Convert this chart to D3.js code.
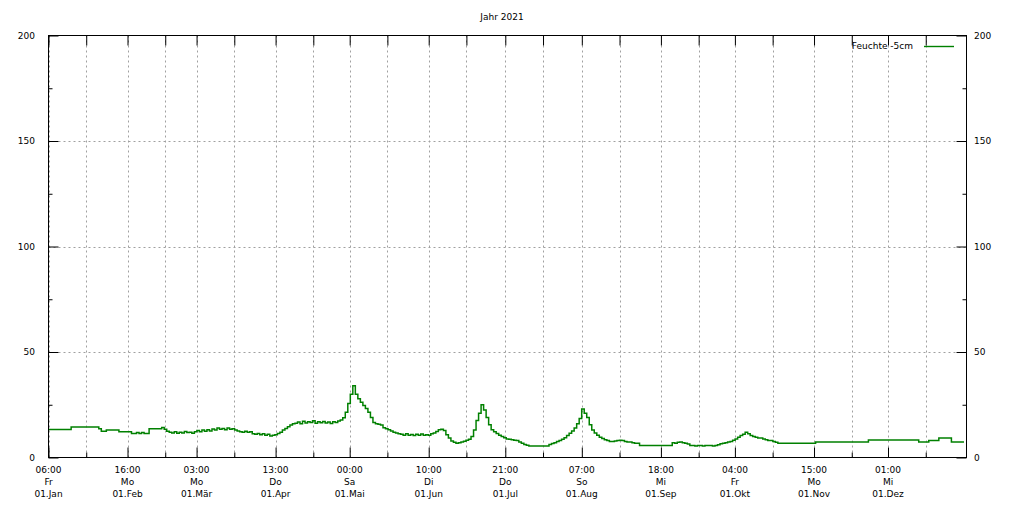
<!DOCTYPE html>
<html><head><meta charset="utf-8">
<script src="https://cdn.jsdelivr.net/npm/d3@7"></script>
<style>
body{margin:0;background:#fff;}
svg{display:block;font-family:"DejaVu Sans",sans-serif;font-size:9px;}
</style></head><body>
<svg id="chart" width="1015" height="507"></svg>
<script>
// ---- data ----
const title = "Jahr 2021";
const seriesName = "Feuchte -5cm";
const startDate = "2021-01-01T06:00";
const endDate = "2022-01-01T06:00";
const stepDays = 1; // one daily reading from startDate
const values = [
13.3,13.3,13.3,13.3,13.3,13.3,13.3,13.3,13.3,
14.5,14.5,14.5,14.5,14.5,14.5,14.5,14.5,14.5,14.5,14.5,
13.6,12.4,12.4,13.0,13.0,13.0,13.0,13.0,
12.2,12.2,12.2,12.2,12.2,
11.4,11.4,11.8,11.4,11.8,11.4,11.4,
13.6,13.6,13.6,13.6,13.6,14.2,13.4,
12.4,12.0,11.6,12.2,11.5,12.0,11.6,12.3,11.8,12.0,11.5,12.2,
12.8,12.2,13.0,12.4,13.2,12.6,13.5,13.0,14.0,13.4,13.8,13.2,14.0,13.4,13.6,13.0,12.6,
12.2,12.0,12.4,12.0,12.2,
11.3,11.0,11.4,10.8,11.2,10.6,11.0,10.2,10.6,
10.8,11.4,12.0,13.0,13.8,14.6,15.4,16.0,
16.2,16.8,16.0,17.2,16.4,17.0,16.6,17.4,16.2,16.9,16.5,17.1,16.3,16.8,16.1,17.0,16.6,17.3,
17.8,18.8,21.5,25.6,30.0,34.0,30.0,27.8,26.2,24.6,23.2,21.5,19.0,16.6,16.0,15.8,15.4,14.1,13.6,13.2,12.6,12.0,11.6,11.3,
11.0,10.6,11.2,10.5,10.9,10.4,11.0,10.6,11.1,10.5,10.8,10.6,11.2,
11.6,12.3,13.2,13.4,12.8,10.8,9.2,7.8,7.2,6.8,
7.0,7.4,7.7,8.2,8.6,10.0,13.0,17.5,21.0,25.0,
22.5,19.0,15.5,13.2,12.2,11.4,10.6,10.0,9.4,8.8,
8.6,8.4,8.2,8.1,7.4,6.8,6.2,5.8,5.4,
5.4,5.4,5.4,5.4,5.4,5.4,5.4,
6.2,6.6,7.0,7.6,8.1,8.6,9.4,10.4,11.5,12.6,
14.0,16.0,18.5,23.0,21.0,19.0,15.5,13.0,11.6,10.6,
9.6,9.0,8.4,8.0,7.6,7.6,7.8,8.1,8.2,8.0,
7.6,7.3,7.3,7.0,6.8,6.8,
5.7,5.7,5.7,5.7,5.7,5.7,5.7,5.7,5.7,5.7,5.7,5.7,5.7,
7.0,6.8,7.2,7.3,7.0,6.8,6.4,
5.7,5.7,5.4,5.7,5.7,5.4,5.7,5.7,5.7,5.4,5.7,6.0,
6.5,6.8,7.0,7.3,7.6,8.2,8.8,9.6,10.4,11.0,
12.0,11.2,10.4,10.0,9.6,9.3,9.3,8.8,8.4,8.1,
8.1,7.6,7.2,
6.8,6.8,6.8,6.8,6.8,6.8,6.8,6.8,6.8,6.8,6.8,6.8,6.8,6.8,6.8,
7.3,7.3,7.3,7.3,7.3,7.3,7.3,7.3,7.3,7.3,7.3,7.3,7.3,7.3,7.3,7.3,7.3,7.3,7.3,7.3,7.3,
8.3,8.3,8.3,8.3,8.3,8.3,8.3,8.3,8.3,8.3,8.3,8.3,8.3,8.3,8.3,8.3,8.3,8.3,8.3,8.3,
7.3,7.3,7.3,7.3,
8.1,8.1,8.1,8.1,
9.3,9.3,9.3,9.3,9.3,
7.3,7.3,7.3,7.3,7.3,7.3
];
const majorTicks = ["2021-01-01T06:00","2021-02-01T16:00","2021-03-01T03:00","2021-04-01T13:00","2021-05-01T00:00","2021-06-01T10:00","2021-07-01T21:00","2021-08-01T07:00","2021-09-01T18:00","2021-10-01T04:00","2021-11-01T15:00","2021-12-01T01:00"];
const tickTimes = ["06:00","16:00","03:00","13:00","00:00","10:00","21:00","07:00","18:00","04:00","15:00","01:00"];
const tickDays = ["Fr","Mo","Mo","Do","Sa","Di","Do","So","Mi","Fr","Mo","Mi"];
const tickDates = ["01.Jan","01.Feb","01.Mär","01.Apr","01.Mai","01.Jun","01.Jul","01.Aug","01.Sep","01.Okt","01.Nov","01.Dez"];
const minorTicks = ["2021-01-16T06:00","2021-02-16T16:00","2021-03-16T03:00","2021-04-16T13:00","2021-05-16T00:00","2021-06-16T10:00","2021-07-16T21:00","2021-08-16T07:00","2021-09-16T18:00","2021-10-16T04:00","2021-11-16T15:00","2021-12-16T01:00"];
const yMajor = [0,50,100,150,200];
const yMinor = [25,75,125,175];

// ---- layout ----
const L = 48.5, R = 966.5, T = 35.5, B = 457.5;
const svg = d3.select("#chart");
const parse = d3.isoParse;
const t0 = parse(startDate);
const x = d3.scaleTime().domain([t0, parse(endDate)]).range([L, R]);
const y = d3.scaleLinear().domain([0, 200]).range([B, T]);
const data = values.map((v, i) => ({t: d3.timeHour.offset(t0, i * stepDays * 24), v}));

const gridStyle = s => s.attr("stroke", "#a0a0a0").attr("stroke-width", 1).attr("stroke-dasharray", "2,3");
// vertical grid
const allX = majorTicks.concat(minorTicks).map(parse);
svg.append("g").selectAll("line").data(allX).join("line")
  .attr("x1", d => Math.round(x(d)) + 0.5).attr("x2", d => Math.round(x(d)) + 0.5)
  .attr("y1", T).attr("y2", B).call(gridStyle);
// horizontal grid
svg.append("g").selectAll("line").data([50, 100, 150]).join("line")
  .attr("x1", L).attr("x2", R).attr("y1", d => Math.round(y(d)) + 0.5).attr("y2", d => Math.round(y(d)) + 0.5)
  .call(gridStyle);

// axes via d3 axis generators
const fmtBlank = () => "";
function styleAxis(g) {
  g.select(".domain").remove();
  g.selectAll("line").attr("stroke", "#000");
}
svg.append("g").attr("transform", `translate(0,${B})`)
  .call(d3.axisTop(x).tickValues(majorTicks.map(parse)).tickSize(10).tickFormat(fmtBlank)).call(styleAxis);
svg.append("g").attr("transform", `translate(0,${B})`)
  .call(d3.axisTop(x).tickValues(minorTicks.map(parse)).tickSize(5).tickFormat(fmtBlank)).call(styleAxis);
svg.append("g").attr("transform", `translate(0,${T})`)
  .call(d3.axisBottom(x).tickValues(allX).tickSize(10).tickFormat(fmtBlank)).call(styleAxis);
svg.append("g").attr("transform", `translate(${L},0)`)
  .call(d3.axisRight(y).tickValues(yMajor).tickSize(10).tickFormat(fmtBlank)).call(styleAxis);
svg.append("g").attr("transform", `translate(${L},0)`)
  .call(d3.axisRight(y).tickValues(yMinor).tickSize(4).tickFormat(fmtBlank)).call(styleAxis);
svg.append("g").attr("transform", `translate(${R},0)`)
  .call(d3.axisLeft(y).tickValues(yMajor).tickSize(10).tickFormat(fmtBlank)).call(styleAxis);
svg.append("g").attr("transform", `translate(${R},0)`)
  .call(d3.axisLeft(y).tickValues(yMinor).tickSize(4).tickFormat(fmtBlank)).call(styleAxis);

// y labels
svg.append("g").selectAll("text").data(yMajor).join("text")
  .attr("x", 35).attr("y", d => y(d) + 3).attr("text-anchor", "end").attr("fill", "#000").text(d => d);
svg.append("g").selectAll("text").data(yMajor).join("text")
  .attr("x", 974).attr("y", d => y(d) + 3).attr("text-anchor", "start").attr("fill", "#000").text(d => d);

// x labels (3 lines)
const xl = svg.append("g").selectAll("g").data(majorTicks).join("g")
  .attr("transform", d => `translate(${x(parse(d))},0)`);
xl.append("text").attr("y", 473).attr("text-anchor", "middle").text((d, i) => tickTimes[i]);
xl.append("text").attr("y", 485).attr("text-anchor", "middle").text((d, i) => tickDays[i]);
xl.append("text").attr("y", 497).attr("text-anchor", "middle").text((d, i) => tickDates[i]);

// series line
const line = d3.line().x(d => x(d.t)).y(d => y(d.v)).curve(d3.curveStepAfter);
svg.append("path").datum(data).attr("d", line)
  .attr("fill", "none").attr("stroke", "#008000").attr("stroke-width", 1.5);

// frame
svg.append("rect").attr("x", L).attr("y", T).attr("width", R - L).attr("height", B - T)
  .attr("fill", "none").attr("stroke", "#000").attr("stroke-width", 1);

// title
svg.append("text").attr("x", 502).attr("y", 20).attr("text-anchor", "middle").text(title);

// legend
svg.append("text").attr("x", 913).attr("y", 49).attr("text-anchor", "end").text(seriesName);
svg.append("line").attr("x1", 924).attr("x2", 954).attr("y1", 46.5).attr("y2", 46.5)
  .attr("stroke", "#008000").attr("stroke-width", 1.4);
</script>
</body></html>
